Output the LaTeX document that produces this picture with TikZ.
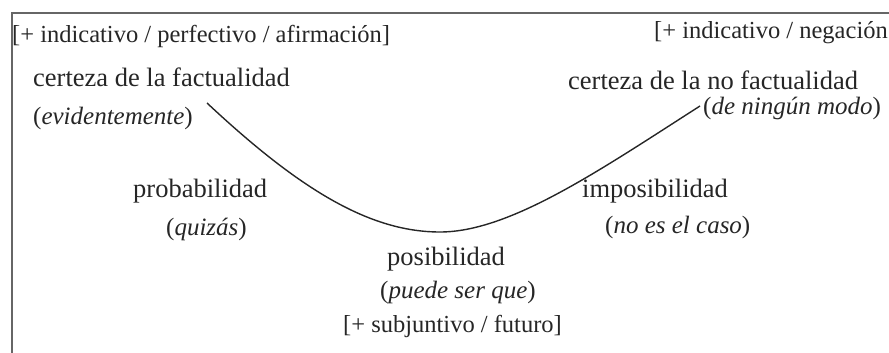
\documentclass[tikz,border=0pt]{standalone}
\usepackage{fontspec}
\setmainfont{Liberation Serif}[ItalicFont={Liberation Serif Italic}]
\tikzset{
  lbl/.style={anchor=base west, inner sep=0pt, text=black!85},
  mainlbl/.style={lbl, font=\fontsize{26.5}{30}\selectfont},
  brlbl/.style={lbl, font=\fontsize{24.5}{28}\selectfont},
  itlbl/.style={lbl, font=\fontsize{25}{28}\selectfont},
  frameline/.style={draw=black!60, line width=2.6pt},
  curveline/.style={draw=black!85, line width=1.4pt}
}
\begin{document}
\begin{tikzpicture}[x=1pt,y=-1pt]
\useasboundingbox (0,0) rectangle (889,353);
\draw[frameline] (12,353) -- (12,13) -- (889,13);

\node[brlbl] (b1) at (12,43) {[+ indicativo / perfectivo / afirmación]};
\node[mainlbl] (c1) at (33,86) {certeza de la factualidad};
\node[itlbl] (e1) at (33,124) {(\textit{evidentemente})};

\node[brlbl] (b2) at (654,39) {[+ indicativo / negación};
\node[mainlbl] (c2) at (568,89) {certeza de la no factualidad};
\node[itlbl] (e2) at (703,114) {(\textit{de ningún modo})};

\node[mainlbl] (p1) at (133,197) {probabilidad};
\node[itlbl] (q1) at (166,235) {(\textit{quizás})};

\node[mainlbl] (i1) at (582,197) {imposibilidad};
\node[itlbl] (n1) at (605,233) {(\textit{no es el caso})};

\node[mainlbl] (po) at (387,265) {posibilidad};
\node[itlbl] (ps) at (380,298) {(\textit{puede ser que})};
\node[brlbl] (bs) at (343,332) {[+ subjuntivo / futuro]};

\coordinate (cs) at (207,103);
\coordinate (cm) at (440,232);
\coordinate (ct) at (700,106);
\draw[curveline] (cs) .. controls (300,190) and (370,232) .. (cm)
                      .. controls (510,232) and (600,170) .. (ct);
\end{tikzpicture}
\end{document}
